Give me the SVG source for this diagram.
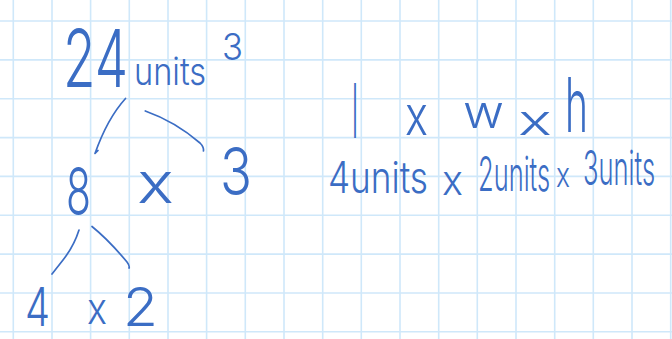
<svg xmlns="http://www.w3.org/2000/svg" width="672" height="339" viewBox="0 0 672 339">
<style>
.grid{stroke:#cfe8fa;stroke-width:1.6;fill:none}
.ink{fill:#3b6dc4;font-family:Inter,"Liberation Sans","DejaVu Sans",sans-serif;font-weight:300}
.stroke{stroke:#3b6dc4;stroke-width:1.7;fill:none;stroke-linecap:round;stroke-linejoin:round}
</style>
<rect width="672" height="339" fill="#ffffff"/>
<g id="grid" class="grid">
<path d="M13.3,0V339M52,0V339M90.6,0V339M129.3,0V339M168,0V339M206.6,0V339M245.3,0V339M284,0V339M322.7,0V339M361.3,0V339M400,0V339M438.7,0V339M477.3,0V339M516,0V339M554.7,0V339M593.3,0V339M632,0V339M670.7,0V339"/>
<path d="M0,21H672M0,59.9H672M0,98.7H672M0,137.6H672M0,176.4H672M0,215.3H672M0,254.1H672M0,293H672M0,331.8H672"/>
</g>
<g id="node-24units3" class="ink">
<text transform="translate(63,87) scale(0.68,1)" font-size="80" textLength="95.6" lengthAdjust="spacingAndGlyphs">24</text>
<text transform="translate(134,85) scale(0.82,1)" font-size="38" textLength="88" lengthAdjust="spacingAndGlyphs">units</text>
<text x="222" y="60" font-size="37" textLength="21" lengthAdjust="spacingAndGlyphs">3</text>
</g>
<g id="node-8" class="ink"><text x="66" y="215" font-size="66" textLength="25" lengthAdjust="spacingAndGlyphs">8</text></g>
<g id="node-times1" class="ink"><text x="137" y="203" font-size="57" textLength="37" lengthAdjust="spacingAndGlyphs">x</text></g>
<g id="node-3" class="ink"><text x="220" y="195" font-size="66" textLength="32" lengthAdjust="spacingAndGlyphs">3</text></g>
<g id="node-4" class="ink"><text x="25" y="326" font-size="54" textLength="25" lengthAdjust="spacingAndGlyphs">4</text></g>
<g id="node-times2" class="ink"><text x="87" y="324" font-size="44" textLength="20" lengthAdjust="spacingAndGlyphs">x</text></g>
<g id="node-2" class="ink"><text x="123" y="326" font-size="54" textLength="35" lengthAdjust="spacingAndGlyphs">2</text></g>
<g id="node-formula" class="ink">
<text x="352" y="138" font-size="75" textLength="6" lengthAdjust="spacingAndGlyphs">l</text>
<text x="405" y="135" font-size="55" textLength="23" lengthAdjust="spacingAndGlyphs">x</text>
<text x="463" y="128" font-size="46" textLength="41" lengthAdjust="spacingAndGlyphs">w</text>
<text x="518" y="135" font-size="42" textLength="34" lengthAdjust="spacingAndGlyphs">x</text>
<text x="565" y="132" font-size="75" textLength="23" lengthAdjust="spacingAndGlyphs">h</text>
</g>
<g id="node-values" class="ink">
<text transform="translate(328,193) scale(0.8,1)" font-size="44" textLength="125" lengthAdjust="spacingAndGlyphs">4units</text>
<text x="442" y="195" font-size="42" textLength="21" lengthAdjust="spacingAndGlyphs">x</text>
<text transform="translate(478,191) scale(0.53,1)" font-size="48" textLength="136" lengthAdjust="spacingAndGlyphs">2units</text>
<text x="556" y="187" font-size="34" textLength="14" lengthAdjust="spacingAndGlyphs">x</text>
<text transform="translate(583,185) scale(0.53,1)" font-size="48" textLength="136" lengthAdjust="spacingAndGlyphs">3units</text>
</g>
<g id="connectors" class="stroke">
<path d="M125.5,98.5C116,109 104,128 95,153.5l3,-3"/>
<path d="M145.3,111C165,118 185,130 200,143Q204,147 203.5,151"/>
<path d="M79,230Q74,246 63,260L52,274"/>
<path d="M92,226.5C105,237 117,250 127,262Q130,266 129,268"/>
</g>
</svg>
